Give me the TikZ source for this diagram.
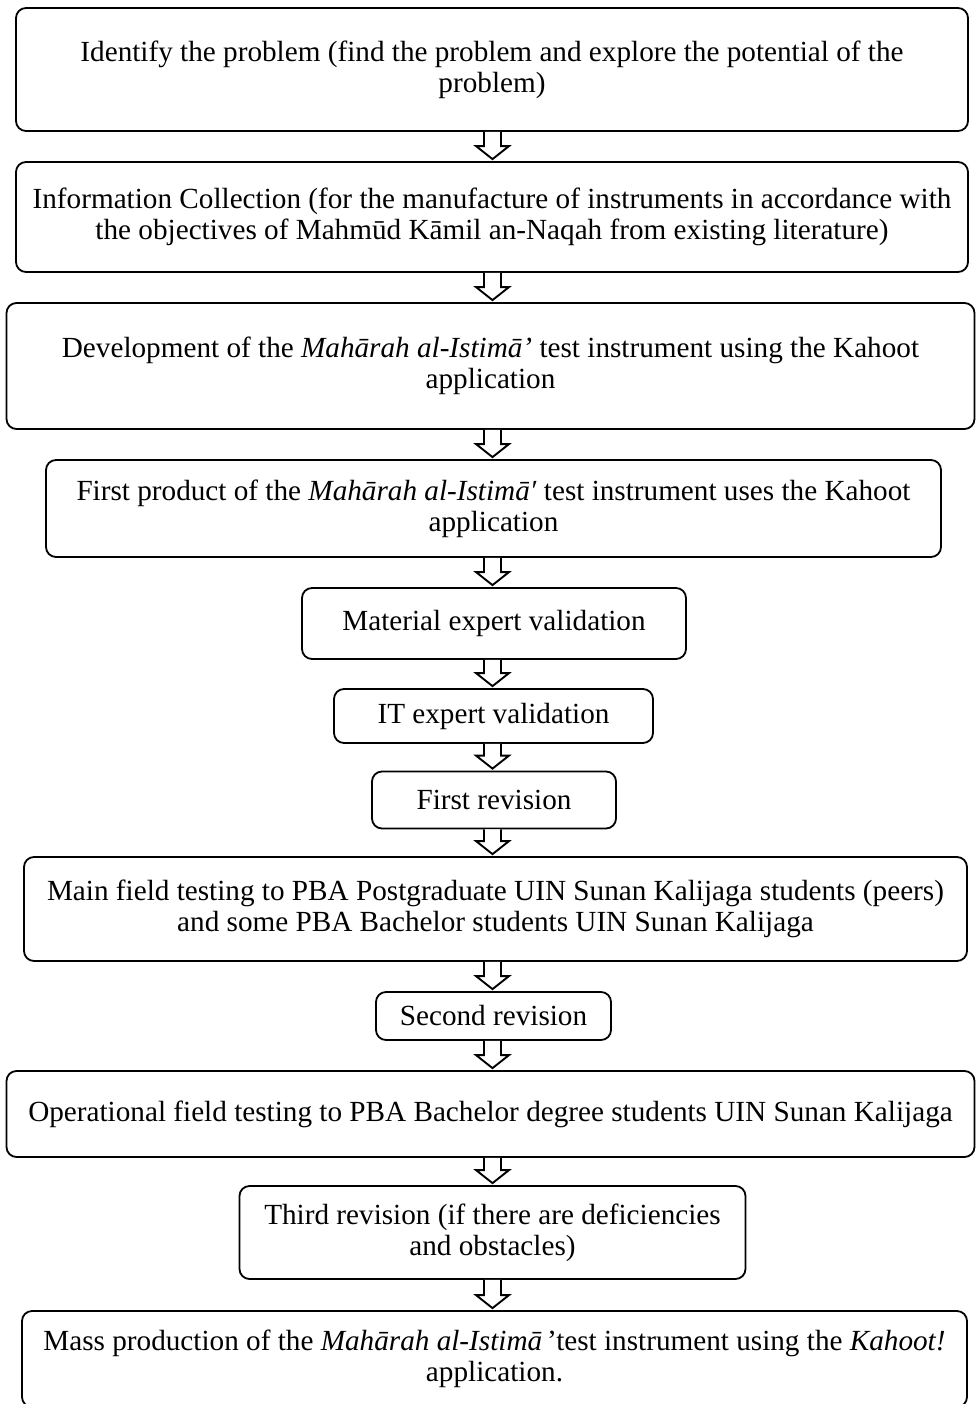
\documentclass[tikz,border=0pt]{standalone}
\usepackage{fontspec}
\setmainfont{Liberation Serif}
\usetikzlibrary{calc}
\tikzset{
  box/.style={draw, line width=1.8pt, rounded corners=10pt, align=center, inner sep=0pt,
    font=\fontsize{29.2}{31}\selectfont},
  harr/.style={draw, line width=1.9pt, fill=white, line join=miter}
}
\newcommand\harrow[2]{%
  \path[harr] let \p1=(#1.south), \p2=(#2.north) in
    (484pt,\y1) -- (484pt,\y2+15pt) -- (476pt,\y2+15pt) -- (492.5pt,\y2+2pt)
    -- (509pt,\y2+15pt) -- (501pt,\y2+15pt) -- (501pt,\y1);}
\begin{document}
\begin{tikzpicture}[x=1pt,y=1pt]
\clip (0,0) rectangle (976,-1404);
\fill[white] (0,0) rectangle (976,-1404);
\node[box, minimum width=952pt, minimum height=123pt] (b1) at (492,-69.5)
  {Identify the problem (find the problem and explore the potential of the\\problem)};
\node[box, minimum width=952pt, minimum height=110pt] (b2) at (492,-217)
  {Information Collection (for the manufacture of instruments in accordance with\\the objectives of Mahmūd Kāmil an-Naqah from existing literature)};
\node[box, minimum width=968pt, minimum height=126pt] (b3) at (490.5,-366)
  {Development of the \textit{Mahārah al-Istimā’} test instrument using the Kahoot\\application};
\node[box, minimum width=895pt, minimum height=97pt] (b4) at (493.5,-508.5)
  {First product of the \textit{Mahārah al-Istimā′} test instrument uses the Kahoot\\application};
\node[box, minimum width=384pt, minimum height=71pt] (b5) at (494,-623.5)
  {Material expert validation};
\node[box, minimum width=319pt, minimum height=54pt] (b6) at (493.5,-716)
  {IT expert validation};
\node[box, minimum width=244pt, minimum height=57pt] (b7) at (494,-800)
  {First revision};
\node[box, minimum width=943pt, minimum height=104pt] (b8) at (495.5,-909)
  {Main field testing to PBA Postgraduate UIN Sunan Kalijaga students (peers)\\and some PBA Bachelor students UIN Sunan Kalijaga};
\node[box, minimum width=235pt, minimum height=48pt] (b9) at (493.5,-1016)
  {Second revision};
\node[box, minimum width=968pt, minimum height=86pt] (b10) at (490.5,-1114)
  {Operational field testing to PBA Bachelor degree students UIN Sunan Kalijaga};
\node[box, minimum width=506pt, minimum height=93pt] (b11) at (492.5,-1232.5)
  {Third revision (if there are deficiencies\\and obstacles)};
\node[box, minimum width=945pt, minimum height=96pt] (b12) at (494.5,-1359)
  {Mass production of the \textit{Mahārah al-Istimā}\,’test instrument using the \textit{Kahoot!}\\application.};
\harrow{b1}{b2}
\harrow{b2}{b3}
\harrow{b3}{b4}
\harrow{b4}{b5}
\harrow{b5}{b6}
\harrow{b6}{b7}
\harrow{b7}{b8}
\harrow{b8}{b9}
\harrow{b9}{b10}
\harrow{b10}{b11}
\harrow{b11}{b12}
\end{tikzpicture}
\end{document}
